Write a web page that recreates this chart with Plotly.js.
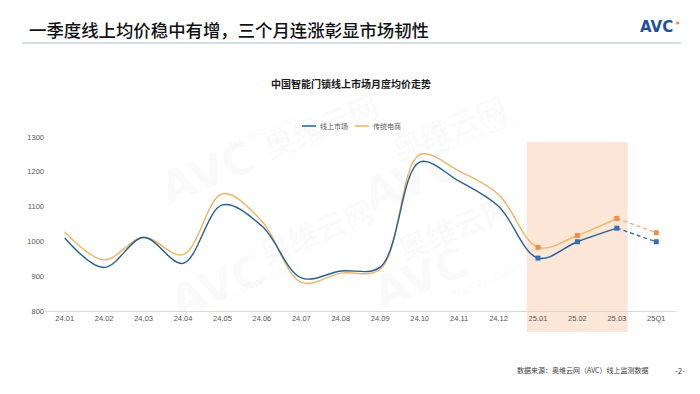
<!DOCTYPE html>
<html>
<head>
<meta charset="utf-8">
<script src="https://cdn.plot.ly/plotly-3.0.1.min.js"></script>
<style>
html,body{margin:0;padding:0;background:#fff;}
#chart{width:700px;height:394px;}
</style>
</head>
<body>
<div id="chart"></div>
<script>
// ---- data ----
const months = ['24.01','24.02','24.03','24.04','24.05','24.06','24.07','24.08','24.09','24.10','24.11','24.12','25.01','25.02','25.03','25Q1'];
const onlineMarket = [1010, 925, 1011, 937, 1105, 1044, 895, 915, 926, 1228, 1173, 1101, 952, 999, 1038, 999];
const traditionalEcom = [1028, 947, 1012, 962, 1137, 1058, 882, 909, 920, 1249, 1202, 1135, 983, 1017, 1066, 1025];
const seriesNames = ['线上市场', '传统电商'];
const yTicks = [800, 900, 1000, 1100, 1200, 1300];
const mainTitle = '一季度线上均价稳中有增，三个月连涨彰显市场韧性';
const chartTitle = '中国智能门锁线上市场月度均价走势';
const sourceNote = '数据来源：奥维云网（AVC）线上监测数据';
const pageNo = '-2-';

// ---- layout helpers ----
const L = 45, R = 24, T = 137, B = 83, W = 700, H = 394;
const pw = W - L - R, ph = H - T - B;
const px = p => (p - L) / pw;
const py = p => (H - B - p) / ph;

const blueLine = '#245f90', blueMark = '#3a6db5', blueDash = '#3a6db0';
const orgLine = '#eeb466', orgMark = '#ee8c4c', orgDash = '#f2ad84';
const cjk = '"Noto Sans CJK SC", "Noto Sans", sans-serif';

const solidIdx = months.length - 1;     // 24.01 .. 25.03 solid
const markStart = 12;                  // markers from 25.01

function trace(vals, color, mcolor, dcolor) {
  return [
    {x: months.slice(0, solidIdx), y: vals.slice(0, solidIdx), mode: 'lines',
     line: {color: color, width: 1.4, shape: 'spline', smoothing: 1}, hoverinfo: 'skip', showlegend: false},
    {x: months.slice(solidIdx - 1), y: vals.slice(solidIdx - 1), mode: 'lines',
     line: {color: dcolor, width: 1.4, dash: '4px,3px'}, hoverinfo: 'skip', showlegend: false},
    {x: months.slice(markStart), y: vals.slice(markStart), mode: 'markers',
     marker: {color: mcolor, size: 5, symbol: 'square'}, hoverinfo: 'skip', showlegend: false}
  ];
}

const data = [].concat(
  trace(traditionalEcom, orgLine, orgMark, orgDash),
  trace(onlineMarket, blueLine, blueMark, blueDash)
);

const wm = [];
[[150,128,255,80],[410,135,515,82],[160,330,250,275],[420,322,520,272]].forEach(w => {
  wm.push({xref:'paper', yref:'paper', x:px(w[0]), y:py(w[1]), text:'<b>AVC</b>', showarrow:false,
    textangle:-22, font:{family:'DejaVu Sans', size:44, color:'rgba(120,120,120,0.04)'}});
  wm.push({xref:'paper', yref:'paper', x:px(w[2]), y:py(w[3]), text:'<b>奥维云网</b>', showarrow:false,
    textangle:-22, font:{family:cjk, size:30, color:'rgba(120,120,120,0.045)'}});
  wm.push({xref:'paper', yref:'paper', x:px(w[2]+8), y:py(w[3]+30), text:'ALL VIEW CLOUD', showarrow:false,
    textangle:-22, font:{family:'DejaVu Sans', size:9, color:'rgba(120,120,120,0.06)'}});
});

const layout = {
  width: W, height: H,
  margin: {l: L, r: R, t: T, b: B, pad: 0},
  paper_bgcolor: '#ffffff', plot_bgcolor: 'rgba(0,0,0,0)',
  showlegend: false,
  font: {family: cjk, color: '#595959'},
  xaxis: {
    type: 'category', categoryarray: months, range: [-0.5, months.length - 0.5],
    showgrid: false, zeroline: false, showline: true, linecolor: '#d9d9d9', linewidth: 1,
    ticks: '', tickfont: {family: 'Liberation Sans, Arial, sans-serif', size: 7.5, color: '#555555'},
    fixedrange: true
  },
  yaxis: {
    range: [800, 1300], tickvals: yTicks, ticktext: yTicks.map(String),
    showgrid: false, zeroline: false, showline: false, ticks: '',
    tickfont: {family: 'Liberation Sans, Arial, sans-serif', size: 7.5, color: '#555555'},
    fixedrange: true
  },
  shapes: [
    {type: 'rect', xref: 'x', yref: 'paper', x0: 11.714, x1: 14.275, y0: py(332), y1: py(141.7),
     fillcolor: '#fbe6d8', line: {width: 0}, layer: 'below'},
    {type: 'line', xref: 'paper', yref: 'paper', x0: px(22), x1: px(681), y0: py(43), y1: py(43),
     line: {color: '#9dbfd4', width: 1.2}},
    {type: 'line', xref: 'paper', yref: 'paper', x0: px(302), x1: px(316), y0: py(126), y1: py(126),
     line: {color: blueLine, width: 1.5}},
    {type: 'line', xref: 'paper', yref: 'paper', x0: px(355), x1: px(369), y0: py(126), y1: py(126),
     line: {color: orgLine, width: 1.5}}
  ],
  annotations: wm.concat([
    {xref: 'paper', yref: 'paper', x: px(27), y: py(30), xanchor: 'left', yanchor: 'middle',
     text: mainTitle, showarrow: false, font: {family: cjk, size: 17.4, color: '#111111', weight: 500}},
    {xref: 'paper', yref: 'paper', x: px(656), y: py(27), xanchor: 'center', yanchor: 'middle',
     text: '<b>AVC</b>', showarrow: false, font: {family: 'DejaVu Sans', size: 15, color: '#1f4ea1'}},
    {xref: 'paper', yref: 'paper', x: px(678), y: py(22), xanchor: 'center', yanchor: 'middle',
     text: '●', showarrow: false, font: {family: 'DejaVu Sans', size: 4, color: '#f08a2a'}},
    {xref: 'paper', yref: 'paper', x: px(350.5), y: py(83), xanchor: 'center', yanchor: 'middle',
     text: '<b>' + chartTitle + '</b>', showarrow: false, font: {family: cjk, size: 10, color: '#1a1a1a'}},
    {xref: 'paper', yref: 'paper', x: px(318), y: py(126), xanchor: 'left', yanchor: 'middle',
     text: seriesNames[0], showarrow: false, font: {family: cjk, size: 7, color: '#595959'}},
    {xref: 'paper', yref: 'paper', x: px(371), y: py(126), xanchor: 'left', yanchor: 'middle',
     text: seriesNames[1], showarrow: false, font: {family: cjk, size: 7, color: '#595959'}},
    {xref: 'paper', yref: 'paper', x: px(515), y: py(370), xanchor: 'left', yanchor: 'middle',
     text: sourceNote, showarrow: false, font: {family: cjk, size: 7, color: '#404040'}},
    {xref: 'paper', yref: 'paper', x: px(680), y: py(370), xanchor: 'center', yanchor: 'middle',
     text: pageNo, showarrow: false, font: {family: cjk, size: 8, color: '#404040'}}
  ])
};

Plotly.newPlot('chart', data, layout, {staticPlot: true, displayModeBar: false});
</script>
</body>
</html>
